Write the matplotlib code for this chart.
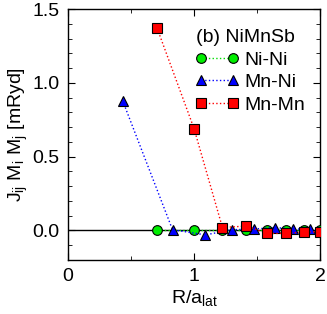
import numpy as np
from matplotlib import pyplot as plt
from matplotlib.ticker import MultipleLocator

plt.rcParams['font.family'] = ['Liberation Sans', 'DejaVu Sans']
plt.rcParams['mathtext.fontset'] = 'custom'
plt.rcParams['mathtext.rm'] = 'Liberation Sans'
plt.rcParams['mathtext.it'] = 'Liberation Sans'

# distances R/a_lat and J_ij M_i M_j values (mRyd)
r_nini = [0.707, 1.0, 1.225, 1.414, 1.581, 1.732, 1.871, 2.0]
j_nini = [0.0, 0.0, 0.0, 0.0, 0.0, 0.0, 0.0, 0.0]

r_mnni = [0.433, 0.829, 1.090, 1.299, 1.479, 1.639, 1.785, 1.920]
j_mnni = [0.88, 0.005, -0.03, 0.005, 0.01, 0.02, 0.01, 0.01]

r_mnmn = [0.707, 1.0, 1.225, 1.414, 1.581, 1.732, 1.871, 2.0]
j_mnmn = [1.37, 0.69, 0.02, 0.03, -0.02, -0.02, -0.01, -0.01]

fig = plt.figure(figsize=(3.27, 3.14), dpi=100)
ax = fig.add_axes([0.208, 0.172, 0.771, 0.799])

ax.axhline(0, color='black', lw=1.0, zorder=1)
ax.plot(r_nini, j_nini, ':', lw=1.0, color='#00dd00', marker='o', ms=7, mfc='#00ee00',
        mec='black', mew=0.8, label='Ni-Ni', zorder=3)
ax.plot(r_mnni, j_mnni, ':', lw=1.0, color='blue', marker='^', ms=7.5, mfc='blue',
        mec='black', mew=0.8, label='Mn-Ni', zorder=3)
ax.plot(r_mnmn, j_mnmn, ':', lw=1.0, color='red', marker='s', ms=7, mfc='red',
        mec='black', mew=0.8, label='Mn-Mn', zorder=3)

ax.set_xlim(0, 2)
ax.set_ylim(-0.2, 1.5)
ax.xaxis.set_major_locator(MultipleLocator(1))
ax.xaxis.set_minor_locator(MultipleLocator(0.5))
ax.yaxis.set_minor_locator(MultipleLocator(0.1))
ax.set_yticks([0.0, 0.5, 1.0, 1.5])
ax.set_yticklabels(['0.0', '0.5', '1.0', '1.5'])
ax.tick_params(which='both', direction='in', top=True, right=True, labelsize=14)
ax.tick_params(which='major', length=5, pad=6)
ax.tick_params(which='minor', length=3)
for s in ax.spines.values():
    s.set_linewidth(1.0)

ax.set_xlabel(r"R/a$_\mathregular{lat}$", fontsize=14, labelpad=2)
ax.set_ylabel(r"J$_\mathregular{ij}$ M$_\mathregular{i}$ M$_\mathregular{j}$ [mRyd]",
              fontsize=14, labelpad=2)

leg = ax.legend(loc='upper right', bbox_to_anchor=(0.94, 0.92), title='(b) NiMnSb',
                frameon=False, numpoints=2, fontsize=14, title_fontsize=14,
                handlelength=2.2, handletextpad=0.3, labelspacing=0.25,
                borderaxespad=0.0, borderpad=0.0)
leg._legend_box.align = 'left'

fig.savefig("out.png", dpi=100)
